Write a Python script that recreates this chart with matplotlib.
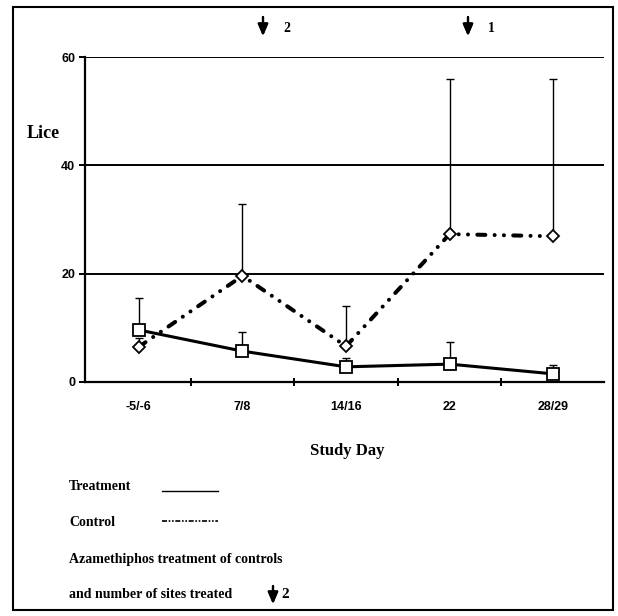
import numpy as np
import matplotlib.pyplot as plt
from matplotlib.lines import Line2D
from matplotlib.patches import Rectangle

# data
days = ['-5/-6', '7/8', '14/16', '22', '28/29']
treat = [9.6, 5.7, 2.8, 3.3, 1.5]
treat_up = [15.5, 9.2, 4.4, 7.4, 3.1]
ctrl = [6.5, 19.6, 6.6, 27.3, 26.9]
ctrl_up = [8.1, 32.8, 14.0, 56.0, 56.0]
yticks = [0, 20, 40, 60]

serif = 'Liberation Serif'
sans = 'Liberation Sans'
W, H = 618, 616


def fx(px):
    return px / W


def fy(py):
    return 1 - py / H


fig = plt.figure(figsize=(6.18, 6.16), dpi=100)
ax = fig.add_axes([fx(85), fy(382), (604 - 85) / W, (382 - 57) / H])

x = np.arange(len(days))
treat = np.array(treat)
ctrl = np.array(ctrl)

# long dash, dot, dot
ctrl_style = (0, (2.0, 2.3, 0.01, 2.3, 0.01, 2.3))

for g in yticks[1:]:
    ax.axhline(g, color='black', lw=1.4, zorder=1)

ax.errorbar(x, treat, yerr=[np.zeros(5), np.array(treat_up) - treat], fmt='none',
            ecolor='black', elinewidth=1.0, capsize=3, capthick=1.0, zorder=2)
ax.errorbar(x, ctrl, yerr=[np.zeros(5), np.array(ctrl_up) - ctrl], fmt='none',
            ecolor='black', elinewidth=1.0, capsize=3, capthick=1.0, zorder=2)

ax.plot(x, treat, color='black', lw=2.2, marker='s', ms=8, mfc='white', mec='black',
        mew=1.3, zorder=4)
ax.plot(x, ctrl, color='black', lw=2.9, linestyle=ctrl_style, dash_capstyle='round',
        marker='D', ms=6, mfc='white', mec='black', mew=1.3, zorder=3)

ax.set_xlim(-0.52, 4.49)
ax.set_ylim(0, 60)
for s in ['top', 'right']:
    ax.spines[s].set_visible(False)
ax.spines['left'].set_linewidth(1.6)
ax.spines['bottom'].set_linewidth(1.6)

ax.set_xticks(x)
ax.set_xticklabels(days)
ax.set_xticks(x[:-1] + 0.5, minor=True)
ax.tick_params(axis='x', which='major', length=0, pad=14)
ax.tick_params(axis='x', which='minor', length=6, width=1.4, direction='inout')
ax.set_yticks(yticks)
ax.tick_params(axis='y', length=4, width=1.4, pad=3)
for lab in ax.get_xticklabels() + ax.get_yticklabels():
    lab.set_fontfamily(sans)
    lab.set_fontweight('bold')
    lab.set_fontsize(9)

fig.text(fx(43), fy(133), 'Lice', family=serif, fontsize=13, fontweight='bold',
         ha='center', va='center')
fig.text(fx(347), fy(451), 'Study Day', family=serif, fontsize=12, fontweight='bold',
         ha='center', va='center')

arrow_props = dict(arrowstyle='-|>,head_width=0.3,head_length=0.7',
                   color='black', lw=1.6, shrinkA=0, shrinkB=0)


def down_arrow(xp, y_top, y_bot):
    fig.add_artist(plt.annotate('', xy=(fx(xp), fy(y_bot)), xytext=(fx(xp), fy(y_top)),
                                xycoords='figure fraction', arrowprops=arrow_props))


# treatment arrows above the plot
down_arrow(263, 17, 36)
fig.text(fx(283), fy(28), '2', family=serif, fontsize=10, fontweight='bold', va='center')
down_arrow(468, 17, 36)
fig.text(fx(488), fy(28), '1', family=serif, fontsize=10, fontweight='bold', va='center')

# legend block
leg_x = fx(69)
fig.text(leg_x, fy(487), 'Treatment', family=serif, fontsize=10, fontweight='bold',
         va='center')
fig.add_artist(Line2D([fx(162), fx(218)], [fy(491)] * 2, color='black', lw=1.0))
fig.text(leg_x, fy(523), 'Control', family=serif, fontsize=10, fontweight='bold',
         va='center')
fig.add_artist(Line2D([fx(162), fx(218)], [fy(521)] * 2, color='black', lw=1.2,
                      linestyle=(0, (3, 1, 1, 1, 1, 1))))
fig.text(leg_x, fy(559), 'Azamethiphos treatment of controls', family=serif,
         fontsize=10, fontweight='bold', va='center')
fig.text(leg_x, fy(594), 'and number of sites treated', family=serif,
         fontsize=10, fontweight='bold', va='center')
down_arrow(273, 586, 604)
fig.text(fx(281), fy(594), '2', family=serif, fontsize=11, fontweight='bold', va='center')

fig.add_artist(Rectangle((fx(13), fy(610)), (613 - 13) / W, (610 - 7) / H,
                         transform=fig.transFigure, fill=False, ec='black', lw=1.5))

fig.savefig('out.png', dpi=100)
